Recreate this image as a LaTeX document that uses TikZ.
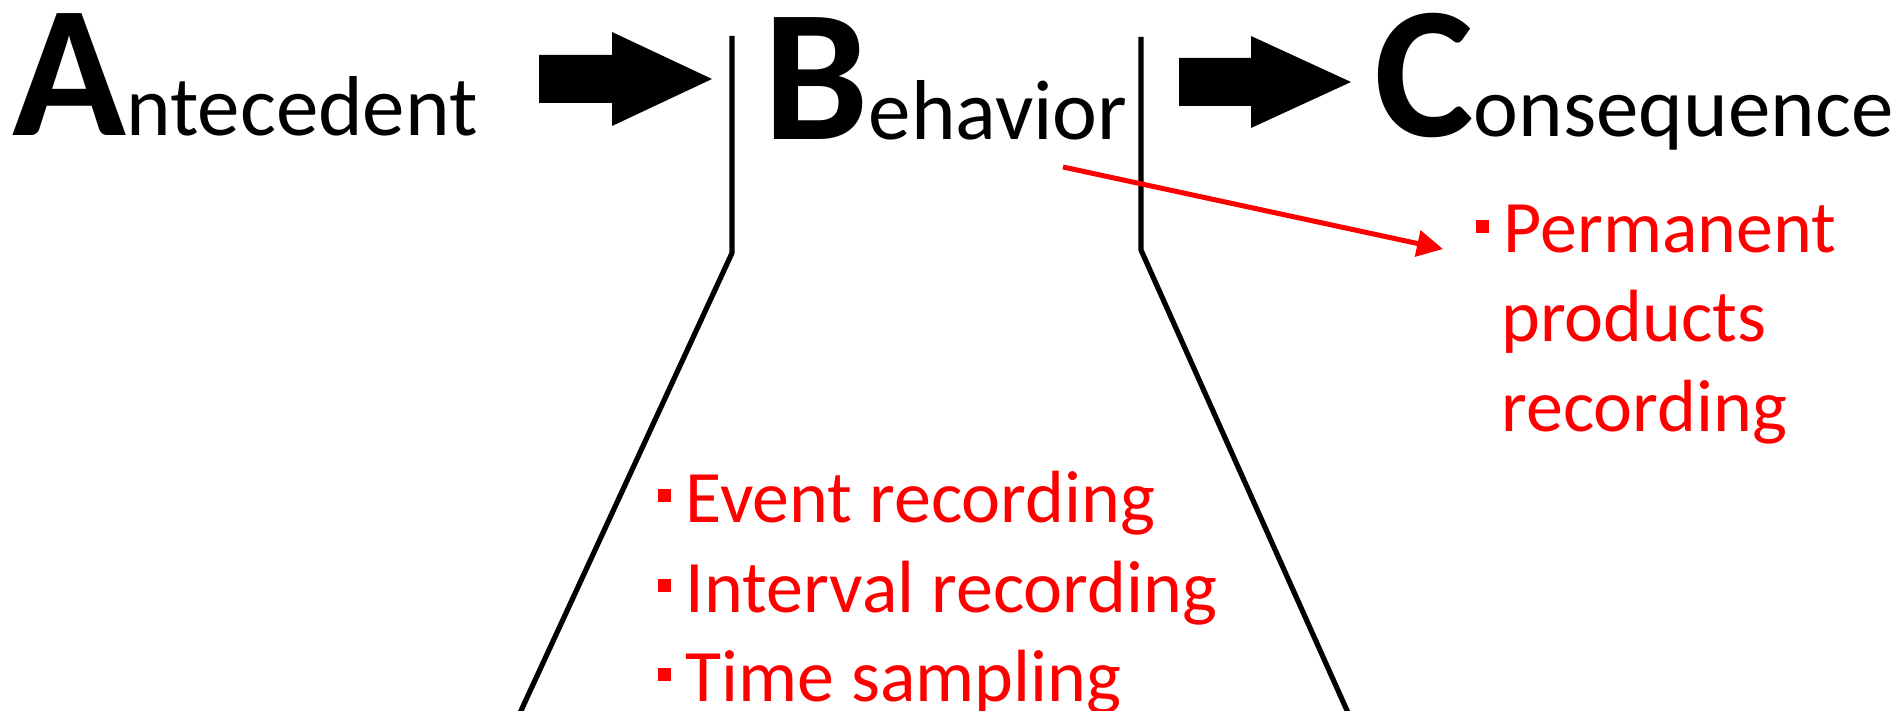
\documentclass[tikz,border=0pt]{standalone}
\usepackage{fontspec}
\setmainfont{Carlito}
\usetikzlibrary{arrows.meta}
\newcommand\abcinitial[1]{{\fontsize{94}{94}\selectfont\bfseries #1}}
\newcommand\sqbullet{\rule[0.27em]{0.17em}{0.17em}\hspace{0.2em}}
\begin{document}
\begin{tikzpicture}[x=0.5pt,y=-0.5pt,
  heading/.style={inner sep=0pt, anchor=base west, font=\fontsize{42.5}{50}\selectfont},
  method/.style={inner sep=0pt, anchor=base west, text=red, font=\fontsize{37}{44}\selectfont},
  blockarrow/.style={fill=black},
  funnel/.style={draw=black, line width=2.6pt, line join=bevel},
  link/.style={draw=red, line width=2.5pt, -{Triangle[length=13pt,width=13pt]}}]
\useasboundingbox (0,0) rectangle (1901,711);

% A - B - C headings
\node[heading] (ant) at (12,136) {\abcinitial{A}ntecedent};
\node[heading] (beh) at (763,140) {\abcinitial{B}ehavior};
\node[heading] (con) at (1374,137) {\abcinitial{C}onsequence};

% block arrows between the headings
\fill[blockarrow] (539,55) -- (612,55) -- (612,32) -- (712,79) -- (612,126) -- (612,103) -- (539,103) -- cycle;
\fill[blockarrow] (1179,58) -- (1251,58) -- (1251,36) -- (1351,82) -- (1251,128) -- (1251,106) -- (1179,106) -- cycle;

% funnel opening below Behavior
\draw[funnel] (732,36) -- (732,253) -- (519,715);
\draw[funnel] (1141,37) -- (1141,250) -- (1349,715);

% behaviour recording methods
\node[method] (ev) at (658,522) {\sqbullet Event recording};
\node[method] (iv) at (658,612) {\sqbullet Interval recording};
\node[method] (ts) at (658,701) {\sqbullet Time sampling};

% consequence recording method
\node[method] (p1) at (1476,253) {\sqbullet Permanent};
\node[method] (p2) at (1501,342) {products};
\node[method] (p3) at (1501,431) {recording};

% arrow from Behavior to the permanent products
\coordinate (bsrc) at (1063,167);
\coordinate (ptip) at (1443,249);
\draw[link] (bsrc) -- (ptip);
\end{tikzpicture}
\end{document}
